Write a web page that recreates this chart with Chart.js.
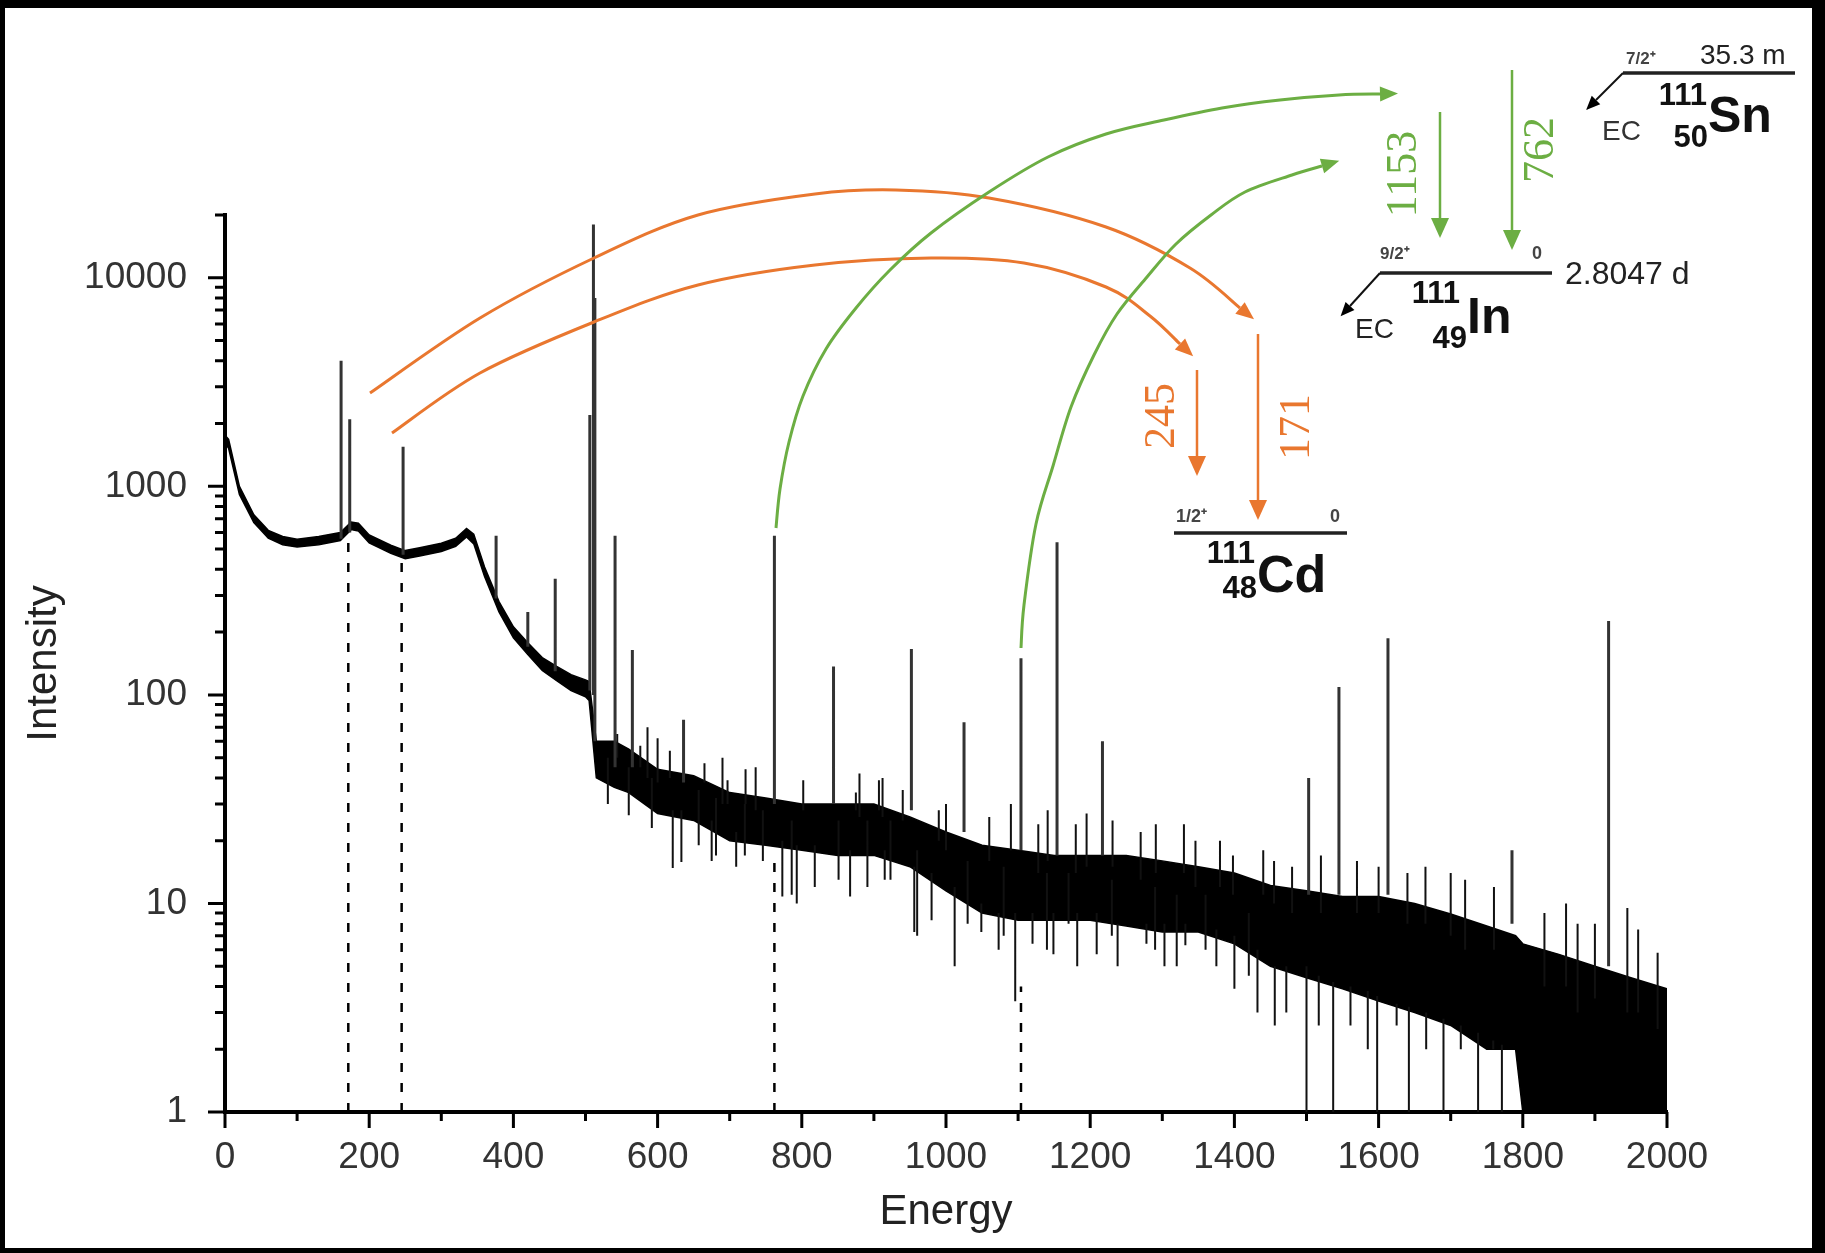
<!DOCTYPE html>
<html>
<head>
<meta charset="utf-8">
<script src="https://cdn.jsdelivr.net/npm/chart.js@4.4.1/dist/chart.umd.min.js"></script>
<style>
  html, body { margin: 0; padding: 0; background: #000; overflow: hidden; }
  canvas { display: block; }
</style>
</head>
<body>
<canvas id="spectrum" width="1825" height="1253"></canvas>
<script>
// continuum of the spectrum (upper / lower edge of the trace)
const gridEnergy = [0, 5, 20, 40, 60, 80, 100, 130, 160, 175, 185, 200, 230, 250, 270, 300, 320, 335, 345, 360, 380, 400, 420, 440, 460, 480, 500, 505, 515, 540, 560, 600, 650, 700, 750, 800, 850, 900, 950, 1000, 1050, 1100, 1150, 1200, 1250, 1300, 1350, 1400, 1450, 1500, 1550, 1600, 1650, 1700, 1750, 1790, 1800, 1850, 1900, 1950, 2000];
const upperEdge = [1760, 1680, 1000, 730, 615, 575, 558, 575, 600, 675, 665, 585, 522, 492, 507, 533, 564, 628, 590, 410, 280, 212, 178, 151, 137, 125, 118, 116, 60, 60, 55, 44, 41, 34, 32, 30, 30, 30, 26, 22, 19, 18, 17, 17, 17, 16, 15, 14, 12.2, 11.5, 10.8, 10.8, 10, 8.9, 7.8, 7, 6.4, 5.7, 5, 4.4, 3.9];
const lowerEdge = [1620, 1520, 915, 670, 565, 525, 512, 525, 550, 620, 610, 535, 478, 450, 463, 487, 516, 572, 530, 370, 250, 188, 156, 131, 117, 105, 98, 94, 40, 36, 34, 27, 25, 20, 19, 18, 17, 17, 15, 11.5, 9, 8.3, 8.3, 8.3, 7.8, 7.3, 7.3, 6.4, 5, 4.4, 3.9, 3.4, 3, 2.6, 2, 2, 1, 1, 1, 1, 1];

// gamma lines: energy, top and foot of each line
const peakEnergy = [161, 173, 247, 376, 420, 458, 506, 511, 513, 541, 565, 636, 762, 844, 952, 1025, 1104, 1154, 1217, 1503, 1545, 1613, 1785, 1919];
const peakTop = [4000, 2100, 1550, 580, 250, 360, 2200, 18000, 8000, 580, 164, 76, 580, 137, 166, 74, 150, 540, 60, 40, 109, 187, 18, 226];
const peakFoot = [560, 600, 470, 290, 170, 130, 105, 100, 60, 45, 45, 38, 30, 30, 28, 22, 18, 17, 17, 11, 11, 11, 8, 5];

// single noise channels sticking out of the trace
const noiseEnergy = [531, 544, 560, 576, 586, 592, 600, 617, 621, 633, 657, 665, 675, 681, 690, 697, 709, 721, 722, 736, 746, 773, 786, 793, 802, 818, 851, 867, 875, 880, 891, 907, 912, 915, 923, 940, 956, 960, 980, 990, 1000, 1012, 1030, 1049, 1060, 1073, 1080, 1090, 1096, 1120, 1128, 1140, 1141, 1149, 1170, 1180, 1182, 1195, 1209, 1230, 1231, 1238, 1270, 1278, 1290, 1291, 1303, 1320, 1330, 1332, 1346, 1360, 1375, 1380, 1398, 1400, 1420, 1432, 1440, 1455, 1456, 1472, 1480, 1500, 1517, 1520, 1537, 1561, 1570, 1585, 1598, 1600, 1625, 1640, 1642, 1665, 1666, 1690, 1700, 1714, 1720, 1738, 1759, 1760, 1771, 1830, 1860, 1876, 1900, 1945, 1960, 1987];
const noiseLow = [30, 50, 26.5, 45, 40, 23, 38, 40, 14.8, 15.8, 19, 38, 16, 17, 30, 30, 15, 17, 30, 28, 16, 10.8, 11, 10, 28, 12, 13, 10.8, 28, 26, 12, 28, 26, 13, 13, 25, 7.3, 7, 8.3, 20, 18, 5, 8, 7.3, 16, 6, 7, 18, 3.4, 6.4, 14, 6, 16, 5.7, 8, 14, 5, 15, 5.7, 7, 15, 5, 13, 6.4, 6, 14, 5, 5, 14, 6.3, 12, 6, 5, 12, 11, 3.9, 4.5, 3, 11, 10, 2.6, 3, 9, 1, 2.6, 9, 1, 2.6, 9, 2, 1, 9, 2.6, 8, 1, 8, 2, 1, 7, 2, 6, 1, 2, 6, 1, 4, 4, 3, 3.5, 3, 3, 2.5];
const noiseHigh = [50, 65, 45, 57, 70, 40, 62, 54, 28, 28, 35, 47, 25, 32, 50, 39, 22, 30, 44, 45, 28, 20, 25, 19, 39, 19, 25, 18, 34, 42, 25, 39, 40, 18, 25, 35, 15, 18, 14, 28, 30, 12, 16, 10, 26, 9, 15, 30, 9, 9, 24, 14, 28, 9, 14, 24, 9, 27, 9, 13, 25, 8, 22, 8, 12, 24, 8, 11, 24, 8, 20, 11, 7.5, 20, 17, 7, 9, 6, 18, 16, 5, 5, 15, 5, 4.5, 17, 4.2, 4, 16, 3.8, 3.6, 15, 3.3, 14, 3.2, 15, 3, 2.8, 14, 2.6, 13, 2.4, 2.2, 12, 2.1, 9, 10, 8, 8, 9.5, 7.5, 5.8];

// dashed markers under the lines that feed the decay scheme
const markerEnergy = [171, 245, 762, 1104];
const markerTop = [560, 450, 16, 4];

const xTickLabels = ['0', '200', '400', '600', '800', '1000', '1200', '1400', '1600', '1800', '2000'];
const yTickLabels = ['1', '10', '100', '1000', '10000'];

const orange = '#E9772F';
const green = '#6CAE43';

function sticks(es, a, b) {
  const pts = [];
  es.forEach((e, i) => {
    pts.push({x: e, y: a[i]}, {x: e, y: b[i]}, {x: e, y: null});
  });
  return pts;
}

const upperData = gridEnergy.map((e, i) => ({x: e, y: upperEdge[i]}));
const lowerData = gridEnergy.map((e, i) => ({x: e, y: lowerEdge[i]}));
const markerData = sticks(markerEnergy, markerEnergy.map(() => 1), markerTop);

// ---- drawing helpers for the decay scheme ----
function smoothPath(ctx, pts) {
  ctx.moveTo(pts[0][0], pts[0][1]);
  for (let i = 0; i < pts.length - 1; i++) {
    const p0 = pts[i - 1] || pts[i], p1 = pts[i], p2 = pts[i + 1], p3 = pts[i + 2] || p2;
    ctx.bezierCurveTo(
      p1[0] + (p2[0] - p0[0]) / 6, p1[1] + (p2[1] - p0[1]) / 6,
      p2[0] - (p3[0] - p1[0]) / 6, p2[1] - (p3[1] - p1[1]) / 6,
      p2[0], p2[1]);
  }
}

function head(ctx, bx, by, ang, len, w, col) {
  ctx.save();
  ctx.translate(bx, by);
  ctx.rotate(ang);
  ctx.beginPath();
  ctx.moveTo(len, 0);
  ctx.lineTo(0, -w / 2);
  ctx.lineTo(0, w / 2);
  ctx.closePath();
  ctx.fillStyle = col;
  ctx.fill();
  ctx.restore();
}

function arc(ctx, pts, col) {
  ctx.save();
  ctx.beginPath();
  smoothPath(ctx, pts);
  ctx.strokeStyle = col;
  ctx.lineWidth = 3;
  ctx.stroke();
  ctx.restore();
  const a = pts[pts.length - 2], b = pts[pts.length - 1];
  head(ctx, b[0], b[1], Math.atan2(b[1] - a[1], b[0] - a[0]), 18, 15, col);
}

function downArrow(ctx, x, y0, y1, col) {
  ctx.save();
  ctx.beginPath();
  ctx.moveTo(x, y0);
  ctx.lineTo(x, y1 - 18);
  ctx.strokeStyle = col;
  ctx.lineWidth = 2.5;
  ctx.stroke();
  ctx.restore();
  head(ctx, x, y1 - 20, Math.PI / 2, 20, 18, col);
}

function text(ctx, s, x, y, font, col, align) {
  ctx.save();
  ctx.font = font;
  ctx.fillStyle = col;
  ctx.textAlign = align || 'left';
  ctx.textBaseline = 'alphabetic';
  ctx.fillText(s, x, y);
  ctx.restore();
}

function upText(ctx, s, x, y, col) {
  ctx.save();
  ctx.translate(x, y);
  ctx.rotate(-Math.PI / 2);
  ctx.font = '44px "Liberation Serif"';
  ctx.fillStyle = col;
  ctx.textAlign = 'center';
  ctx.textBaseline = 'middle';
  ctx.fillText(s, 0, 0);
  ctx.restore();
}

function level(ctx, x0, x1, y) {
  ctx.save();
  ctx.beginPath();
  ctx.moveTo(x0, y);
  ctx.lineTo(x1, y);
  ctx.strokeStyle = '#222';
  ctx.lineWidth = 3.5;
  ctx.stroke();
  ctx.restore();
}

function ecArrow(ctx, x0, y0, x1, y1) {
  ctx.save();
  ctx.beginPath();
  ctx.moveTo(x0, y0);
  ctx.lineTo(x1, y1);
  ctx.strokeStyle = '#111';
  ctx.lineWidth = 2;
  ctx.stroke();
  ctx.restore();
  head(ctx, x1, y1, Math.atan2(y1 - y0, x1 - x0), 14, 12, '#000');
}

const framePlugin = {
  id: 'frame',
  beforeDraw(chart) {
    const ctx = chart.ctx;
    ctx.save();
    ctx.fillStyle = '#000';
    ctx.fillRect(0, 0, chart.width, chart.height);
    ctx.fillStyle = '#fff';
    ctx.fillRect(5, 8, 1807, 1240);
    ctx.restore();
  }
};

const ticksPlugin = {
  id: 'tickMarks',
  afterDraw(chart) {
    const {ctx, chartArea, scales: {x, y}} = chart;
    ctx.save();
    ctx.strokeStyle = '#000';
    ctx.lineWidth = 3;
    ctx.beginPath();
    for (let d = 0; d <= 4; d++) {
      for (let m = 1; m <= 9; m++) {
        const v = m * Math.pow(10, d);
        if (v > y.max) break;
        const py = y.getPixelForValue(v);
        const len = m === 1 ? 17 : 10;
        ctx.moveTo(chartArea.left - len, py);
        ctx.lineTo(chartArea.left, py);
      }
    }
    for (let e = x.min; e <= x.max; e += 100) {
      const px = x.getPixelForValue(e);
      const len = e % 200 === 0 ? 16 : 9;
      ctx.moveTo(px, chartArea.bottom);
      ctx.lineTo(px, chartArea.bottom + len);
    }
    ctx.stroke();
    ctx.restore();
  }
};

const schemePlugin = {
  id: 'decayScheme',
  afterDraw(chart) {
    const ctx = chart.ctx;
    // curved arrows from the spectrum lines to the scheme
    arc(ctx, [[370, 393], [480, 318], [594, 258], [698, 215], [815, 194], [896, 190], [989, 198], [1106, 227], [1190, 268], [1240, 308]], orange);
    arc(ctx, [[392, 433], [480, 373], [594, 322], [698, 285], [815, 265], [931, 258], [1024, 263], [1106, 287], [1150, 316], [1180, 344]], orange);
    arc(ctx, [[776, 528], [780, 489], [789, 442], [803, 396], [826, 349], [856, 308], [890, 270], [931, 233], [989, 192], [1048, 157], [1106, 134], [1164, 120], [1222, 108], [1280, 100], [1339, 95], [1380, 94]], green);
    arc(ctx, [[1021, 648], [1024, 605], [1036, 524], [1053, 466], [1071, 407], [1094, 355], [1117, 314], [1147, 277], [1176, 244], [1211, 215], [1245, 192], [1292, 175], [1322, 166]], green);

    // 111Sn
    level(ctx, 1623, 1795, 73);
    text(ctx, '7/2\u207A', 1626, 64, 'bold 17px "Liberation Sans"', '#444');
    text(ctx, '35.3 m', 1700, 64, '28px "Liberation Sans"', '#222');
    ecArrow(ctx, 1623, 73, 1596, 100);
    text(ctx, 'EC', 1602, 140, '28px "Liberation Sans"', '#333');
    text(ctx, '111', 1707, 105, 'bold 31px "Liberation Sans"', '#111', 'right');
    text(ctx, '50', 1708, 147, 'bold 31px "Liberation Sans"', '#111', 'right');
    text(ctx, 'Sn', 1708, 132, 'bold 50px "Liberation Sans"', '#111');

    // gamma lines of 111In decay
    downArrow(ctx, 1440, 112, 238, green);
    downArrow(ctx, 1512, 70, 250, green);
    upText(ctx, '1153', 1404, 174, green);
    upText(ctx, '762', 1541, 150, green);

    // 111In
    level(ctx, 1380, 1552, 273);
    text(ctx, '9/2\u207A', 1380, 259, 'bold 17px "Liberation Sans"', '#444');
    text(ctx, '0', 1532, 259, 'bold 18px "Liberation Sans"', '#444');
    text(ctx, '2.8047 d', 1565, 284, '32px "Liberation Sans"', '#222');
    ecArrow(ctx, 1380, 273, 1350, 306);
    text(ctx, 'EC', 1355, 338, '28px "Liberation Sans"', '#222');
    text(ctx, '111', 1460, 303, 'bold 31px "Liberation Sans"', '#111', 'right');
    text(ctx, '49', 1467, 348, 'bold 31px "Liberation Sans"', '#111', 'right');
    text(ctx, 'In', 1467, 333, 'bold 50px "Liberation Sans"', '#111');

    // gamma lines of 111Cd
    downArrow(ctx, 1197, 370, 476, orange);
    downArrow(ctx, 1258, 334, 520, orange);
    upText(ctx, '245', 1162, 416, orange);
    upText(ctx, '171', 1297, 427, orange);

    // 111Cd
    level(ctx, 1174, 1347, 533);
    text(ctx, '1/2\u207A', 1176, 522, 'bold 18px "Liberation Sans"', '#444');
    text(ctx, '0', 1330, 522, 'bold 18px "Liberation Sans"', '#444');
    text(ctx, '111', 1255, 563, 'bold 31px "Liberation Sans"', '#111', 'right');
    text(ctx, '48', 1257, 598, 'bold 31px "Liberation Sans"', '#111', 'right');
    text(ctx, 'Cd', 1257, 592, 'bold 52px "Liberation Sans"', '#111');
  }
};

const tickFont = {family: '"Liberation Sans", Arial, sans-serif', size: 37};
const titleFont = {family: '"Liberation Sans", Arial, sans-serif', size: 42};

const chart = new Chart(document.getElementById('spectrum'), {
  type: 'line',
  data: {
    datasets: [
      {
        label: 'upper',
        data: upperData,
        borderColor: '#000',
        borderWidth: 1.5,
        backgroundColor: '#000',
        fill: '+1',
        pointRadius: 0,
        order: 3
      },
      {
        label: 'lower',
        data: lowerData,
        borderColor: '#000',
        borderWidth: 1.5,
        pointRadius: 0,
        fill: false,
        order: 3
      },
      {
        label: 'noise',
        data: sticks(noiseEnergy, noiseLow, noiseHigh),
        borderColor: '#111',
        borderWidth: 2,
        pointRadius: 0,
        fill: false,
        order: 2
      },
      {
        label: 'lines',
        data: sticks(peakEnergy, peakFoot, peakTop),
        borderColor: '#333',
        borderWidth: 3,
        pointRadius: 0,
        fill: false,
        order: 1
      },
      {
        label: 'markers',
        data: markerData,
        borderColor: '#000',
        borderWidth: 2.5,
        borderDash: [9, 11],
        pointRadius: 0,
        fill: false,
        order: 4
      }
    ]
  },
  options: {
    responsive: false,
    animation: false,
    devicePixelRatio: 1,
    layout: {padding: {left: 6, right: 158, top: 215, bottom: 5}},
    plugins: {legend: {display: false}, tooltip: {enabled: false}},
    scales: {
      x: {
        type: 'linear',
        min: 0,
        max: 2000,
        afterFit(s) { s.height = 136; },
        ticks: {
          stepSize: 200,
          autoSkip: false,
          maxRotation: 0,
          padding: 24,
          color: '#333',
          font: tickFont,
          callback: v => xTickLabels.includes(String(v)) ? String(v) : ''
        },
        grid: {drawOnChartArea: false, drawTicks: false},
        border: {display: true, color: '#000', width: 4},
        title: {display: true, text: 'Energy', color: '#222', font: titleFont, padding: {top: 0, bottom: 10}}
      },
      y: {
        type: 'logarithmic',
        min: 1,
        max: 20000,
        afterFit(s) { s.width = 219; },
        ticks: {
          autoSkip: false,
          padding: 38,
          color: '#333',
          font: tickFont,
          callback: v => yTickLabels.includes(String(v)) ? String(v) : ''
        },
        grid: {drawOnChartArea: false, drawTicks: false},
        border: {display: true, color: '#000', width: 4},
        title: {display: true, text: 'Intensity', color: '#222', font: titleFont, padding: {top: 13, bottom: 0}}
      }
    }
  },
  plugins: [framePlugin, ticksPlugin, schemePlugin]
});
</script>
</body>
</html>
